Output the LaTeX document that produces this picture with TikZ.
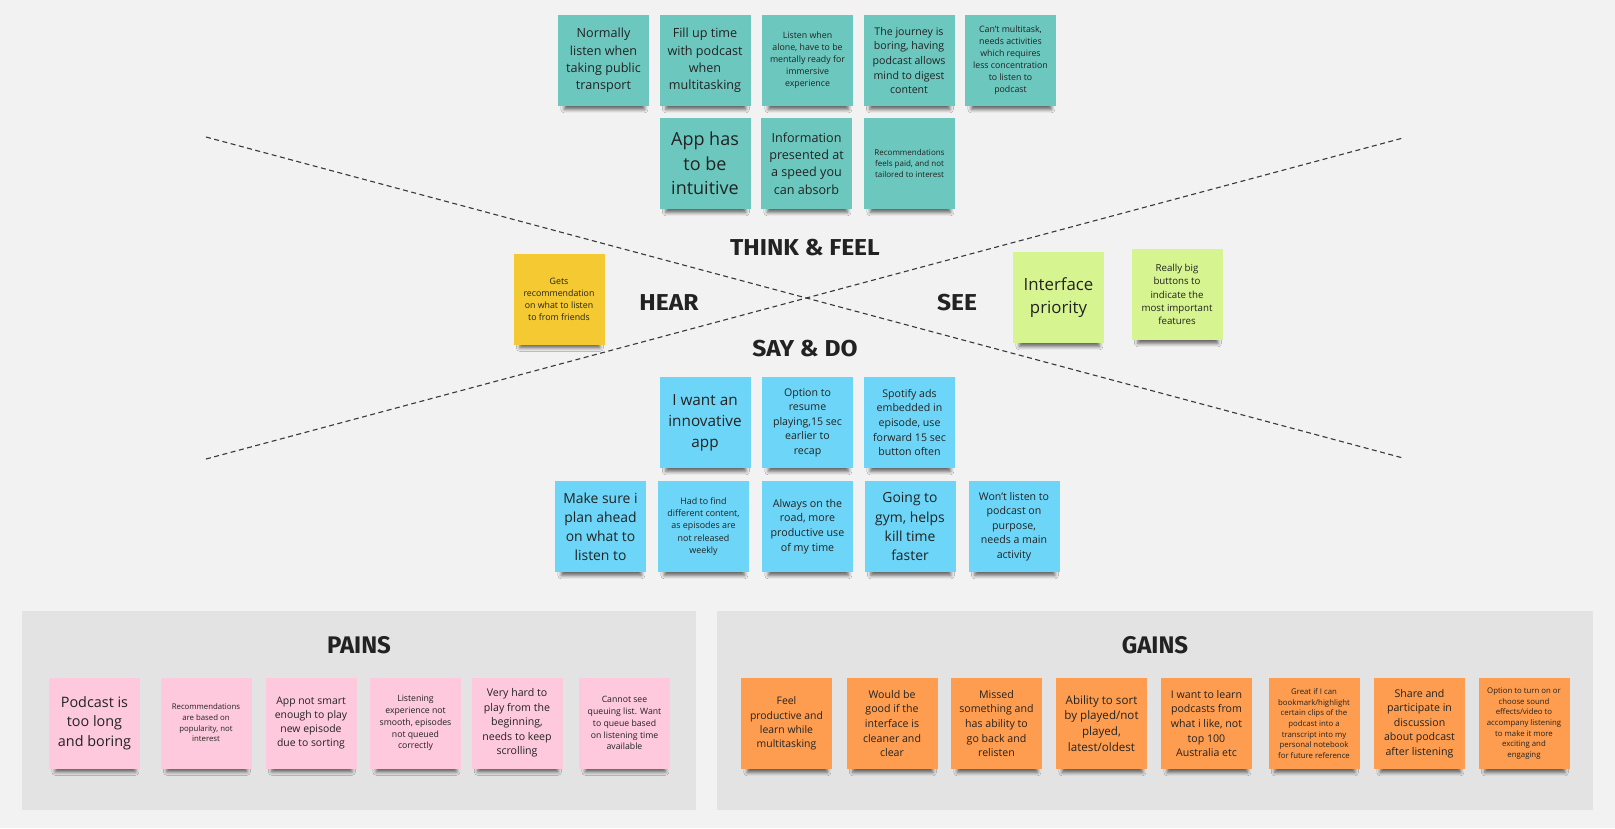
\documentclass[tikz,border=0pt]{standalone}
\usepackage{fontspec}
\setmainfont{Open Sans}
\newfontfamily\headfont{Fira Sans}
\newfontfamily\quadfont{Fira Sans}[FakeStretch=1.07]
\usetikzlibrary{shadows.blur}
\definecolor{board}{HTML}{F2F2F2}
\definecolor{panel}{HTML}{E3E3E3}
\definecolor{ink}{HTML}{222222}
\definecolor{tealnote}{HTML}{6CC8BF}
\definecolor{yellownote}{HTML}{F5C931}
\definecolor{limenote}{HTML}{D6F590}
\definecolor{bluenote}{HTML}{6DD6F8}
\definecolor{pinknote}{HTML}{FEC9DC}
\definecolor{orangenote}{HTML}{FE9D4F}
\newcommand\nfs[1]{\fontsize{#1}{1.37\dimexpr #1pt\relax}\selectfont}

\begin{document}
\begin{tikzpicture}[x=1pt, y=-1pt,
    note/.style={minimum width=91pt, minimum height=91pt, inner sep=1pt, align=center, text=ink,
      blur shadow={shadow xshift=1pt, shadow yshift=-10pt, shadow scale=0.88, shadow opacity=60, shadow blur radius=4pt}},
    teal/.style={note, fill=tealnote},
    yellow/.style={note, fill=yellownote},
    lime/.style={note, fill=limenote},
    blue/.style={note, fill=bluenote},
    pink/.style={note, fill=pinknote},
    orange/.style={note, fill=orangenote},
    quadrant/.style={anchor=base, text=ink, font=\quadfont\bfseries\fontsize{23}{26}\selectfont},
    panelhead/.style={anchor=base, text=ink, font=\headfont\bfseries\fontsize{24}{27}\selectfont},
    split/.style={draw=ink!90, line width=1.1pt, dash pattern=on 5pt off 3.5pt}]
  \useasboundingbox (0,0) rectangle (1615,828);
  \fill[board] (0,0) rectangle (1615,828);
  \fill[panel] (22,611) rectangle (696,810);
  \fill[panel] (717,611) rectangle (1593,810);
  % the two crossing lines
  \coordinate (top left) at (206,137);
  \coordinate (top right) at (1403,138);
  \coordinate (low left) at (206,459);
  \coordinate (low right) at (1403,458);
  \draw[split] (top left) -- (low right);
  \draw[split] (low left) -- (top right);
  \node[quadrant] (think) at (805,255) {THINK \& FEEL};
  \node[quadrant] (say) at (805,356) {SAY \& DO};
  \node[quadrant] (hear) at (669,310) {HEAR};
  \node[quadrant] (see) at (957,310) {SEE};
  % think & feel
  \node[teal, font=\nfs{12.6}] (think1) at (603.5,60.5) {Normally\\listen when\\taking public\\transport};
  \node[teal, font=\nfs{12.6}] (think2) at (705,60.5) {Fill up time\\with podcast\\when\\multitasking};
  \node[teal, font=\nfs{8.8}] (think3) at (807.5,60.5) {Listen when\\alone, have to be\\mentally ready for\\immersive\\experience};
  \node[teal, font=\nfs{10.6}] (think4) at (909,60.5) {The journey is\\boring, having\\podcast allows\\mind to digest\\content};
  \node[teal, font=\nfs{8.8}] (think5) at (1010.5,60.5) {Can't multitask,\\needs activities\\which requires\\less concentration\\to listen to\\podcast};
  \node[teal, font=\nfs{18}] (think6) at (705,163.5) {App has\\to be\\intuitive};
  \node[teal, font=\nfs{12.6}] (think7) at (806.5,163.5) {Information\\presented at\\a speed you\\can absorb};
  \node[teal, font=\nfs{8}] (think8) at (909.5,163.5) {Recommendations\\feels paid, and not\\tailored to interest};
  % hear and see
  \node[yellow, font=\nfs{8.8}] (hear1) at (559,299) {Gets\\recommendation\\on what to listen\\to from friends};
  \node[lime, font=\nfs{16.8}] (see1) at (1058.5,297.5) {Interface\\priority};
  \node[lime, font=\nfs{9.7}] (see2) at (1177,294.5) {Really big\\buttons to\\indicate the\\most important\\features};
  % say & do
  \node[blue, font=\nfs{15.3}] (say1) at (705,422.5) {I want an\\innovative\\app};
  \node[blue, font=\nfs{10.6}] (say2) at (807.5,422.5) {Option to\\resume\\playing,15 sec\\earlier to\\recap};
  \node[blue, font=\nfs{10.6}] (say3) at (909.5,422.5) {Spotify ads\\embedded in\\episode, use\\forward 15 sec\\button often};
  \node[blue, font=\nfs{13.9}] (say4) at (600.5,526.5) {Make sure i\\plan ahead\\on what to\\listen to};
  \node[blue, font=\nfs{8.9}] (say5) at (703.5,526.5) {Had to find\\different content,\\as episodes are\\not released\\weekly};
  \node[blue, font=\nfs{10.7}] (say6) at (807.5,526.5) {Always on the\\road, more\\productive use\\of my time};
  \node[blue, font=\nfs{13.9}] (say7) at (910,526.5) {Going to\\gym, helps\\kill time\\faster};
  \node[blue, font=\nfs{10.6}] (say8) at (1014,526.5) {Won't listen to\\podcast on\\purpose,\\needs a main\\activity};
  % pains
  \node[panelhead] (pains) at (359,653) {PAINS};
  \node[pink, font=\nfs{14.4}] (pain1) at (94.5,723) {Podcast is\\too long\\and boring};
  \node[pink, font=\nfs{7.8}] (pain2) at (206,723) {Recommendations\\are based on\\popularity, not\\interest};
  \node[pink, font=\nfs{10.4}] (pain3) at (311,723) {App not smart\\enough to play\\new episode\\due to sorting};
  \node[pink, font=\nfs{8.7}] (pain4) at (415.5,723) {Listening\\experience not\\smooth, episodes\\not queued\\correctly};
  \node[pink, font=\nfs{10.6}] (pain5) at (517,723) {Very hard to\\play from the\\beginning,\\needs to keep\\scrolling};
  \node[pink, font=\nfs{8.7}] (pain6) at (624.5,723) {Cannot see\\queuing list. Want\\to queue based\\on listening time\\available};
  % gains
  \node[panelhead] (gains) at (1155,653) {GAINS};
  \node[orange, font=\nfs{10.4}] (gain1) at (786.5,723.5) {Feel\\productive and\\learn while\\multitasking};
  \node[orange, font=\nfs{10.6}] (gain2) at (892,723.5) {Would be\\good if the\\interface is\\cleaner and\\clear};
  \node[orange, font=\nfs{10.6}] (gain3) at (996.5,723.5) {Missed\\something and\\has ability to\\go back and\\relisten};
  \node[orange, font=\nfs{11.6}] (gain4) at (1101.5,723.5) {Ability to sort\\by played/not\\played,\\latest/oldest};
  \node[orange, font=\nfs{10.6}] (gain5) at (1206.5,723.5) {I want to learn\\podcasts from\\what i like, not\\top 100\\Australia etc};
  \node[orange, font=\nfs{7.8}] (gain6) at (1314,723.5) {Great if I can\\bookmark/highlight\\certain clips of the\\podcast into a\\transcript into my\\personal notebook\\for future reference};
  \node[orange, font=\nfs{10.6}] (gain7) at (1419.5,723.5) {Share and\\participate in\\discussion\\about podcast\\after listening};
  \node[orange, font=\nfs{7.8}] (gain8) at (1524,723.5) {Option to turn on or\\choose sound\\effects/video to\\accompany listening\\to make it more\\exciting and\\engaging};
\end{tikzpicture}
\end{document}
